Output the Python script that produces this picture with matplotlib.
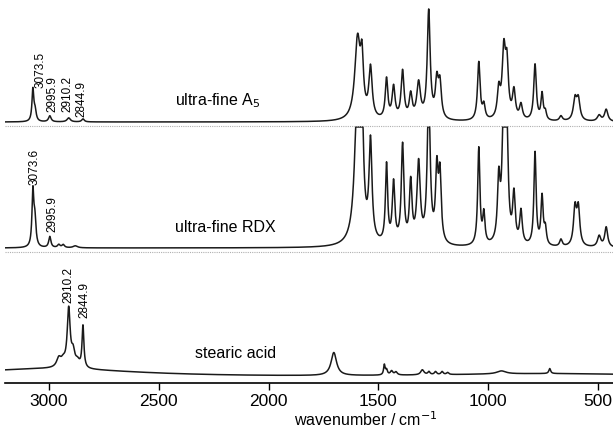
import numpy as np
import matplotlib
matplotlib.use('Agg')
import matplotlib.pyplot as plt

plt.rcParams['font.family'] = ['Liberation Sans', 'DejaVu Sans']

# peak tables: position (cm-1), height, half width
a5_pos = [3073, 3063, 2996, 2910, 2845,
          1595, 1575, 1536, 1463, 1431, 1390, 1353, 1317, 1271, 1234, 1220,
          1043, 1020, 952, 929, 915, 883, 851, 787, 755, 740, 669, 605, 590, 495, 463]
a5_h = [32, 10, 6, 4, 3,
        80, 50, 50, 40, 32, 48, 24, 36, 108, 36, 34,
        58, 14, 28, 66, 50, 28, 15, 56, 26, 8, 5, 21, 21, 6, 12]
a5_w = [5, 6, 7, 9, 7,
        15, 8, 9, 7, 8, 8, 8, 10, 8, 8, 8,
        7, 7, 8, 9, 8, 8, 8, 7, 6, 6, 8, 9, 9, 10, 9]

rdx_pos = [3073, 3064, 2996, 2955, 2935, 2880,
           1595, 1575, 1536, 1463, 1431, 1390, 1353, 1317, 1271, 1234, 1220,
           1043, 1020, 952, 929, 915, 883, 851, 787, 755, 740, 669, 605, 590, 495, 463]
rdx_h = [54, 26, 11, 3, 3, 2,
         150, 108, 98, 78, 60, 98, 60, 80, 150, 70, 66,
         97, 30, 60, 150, 96, 48, 33, 93, 48, 16, 7, 37, 37, 11, 20]
rdx_w = [5, 6, 6, 7, 7, 12,
         15, 8, 8, 6, 7, 7, 7, 9, 8, 7, 7,
         6, 6, 7, 8, 7, 7, 7, 6, 6, 6, 7, 8, 8, 9, 8]

sa_pos = [3000, 700, 2955, 2935, 2910, 2890, 2870, 2845,
          1703, 1473, 1463, 1440, 1420, 1300, 1270, 1240, 1210, 1185, 940, 720]
sa_h = [9, 4, 9, 6, 58, 14, 6, 42,
        23, 10, 5, 4, 3, 5, 3, 3, 3, 2, 3, 5]
sa_w = [500, 700, 12, 12, 8, 9, 12, 5,
        15, 4, 5, 7, 7, 9, 6, 6, 6, 6, 25, 5]

# vertical offsets of each trace
offsets = {'a5': 261, 'rdx': 135, 'sa': 5}
rdx_clip = 121

wn = np.linspace(3200, 430, 4000)


def spectrum(pos, h, w):
    y = np.zeros_like(wn)
    for p, a, g in zip(pos, h, w):
        y += a * g**2 / ((wn - p)**2 + g**2)
    return y


y_a5 = spectrum(a5_pos, a5_h, a5_w) + offsets['a5']
y_rdx = np.minimum(spectrum(rdx_pos, rdx_h, rdx_w), rdx_clip) + offsets['rdx']
y_sa = spectrum(sa_pos, sa_h, sa_w) + offsets['sa']

fig = plt.figure(figsize=(6.13, 4.33), dpi=100)
ax = fig.add_axes([5/613, 50/433, 608/613, 383/433])

for y in (y_a5, y_rdx, y_sa):
    ax.plot(wn, y, color='#1a1a1a', lw=1.1)

# grey dotted separators under the upper traces
for yy in (257, 131):
    ax.axhline(yy, color='#b0b0b0', lw=0.8, ls=(0, (1, 1)))

ax.set_xlim(3200, 432)
ax.set_ylim(0, 383)
for s in ('top', 'left', 'right'):
    ax.spines[s].set_visible(False)
ax.spines['bottom'].set_linewidth(1.2)
ax.set_yticks([])
ax.set_xticks([3000, 2500, 2000, 1500, 1000, 500])
ax.tick_params(axis='x', direction='out', length=5, width=1.0, labelsize=12.5, pad=3)
ax.set_xlabel('wavenumber / cm$^{-1}$', fontsize=11.5, va='top')
ax.xaxis.set_label_coords(0.594, -0.07)

ax.text(2425, 282, 'ultra-fine A$_5$', fontsize=11.5, va='center', ha='left')
ax.text(2425, 155, 'ultra-fine RDX', fontsize=11.5, va='center', ha='left')
ax.text(2334, 30, 'stearic acid', fontsize=11.5, va='center', ha='left')

peak_lbls = [('3073.5', 3036, 295), ('2995.9', 2982, 271), ('2910.2', 2918, 271),
             ('2844.9', 2850, 266), ('3073.6', 3064, 198), ('2995.9', 2986, 151),
             ('2910.2', 2913, 80), ('2844.9', 2840, 65)]
for t, x, y in peak_lbls:
    ax.text(x, y, t, rotation=90, ha='center', va='bottom', fontsize=8.5)

fig.savefig('out.png', dpi=100)
